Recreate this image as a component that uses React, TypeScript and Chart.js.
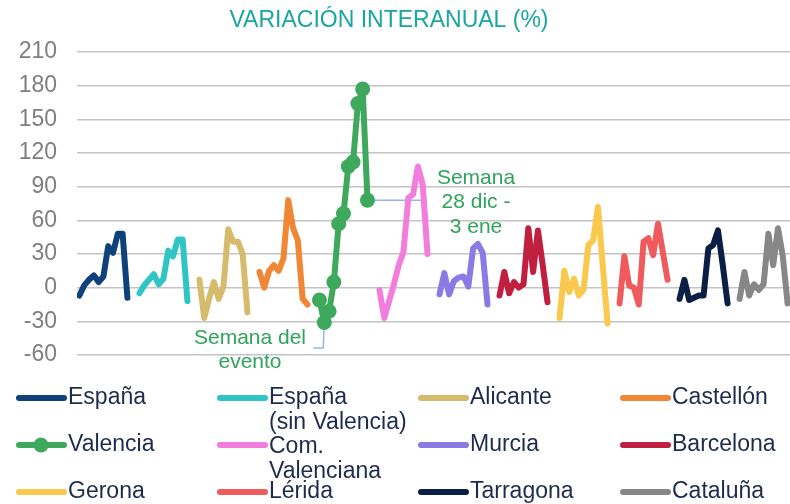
import React, { useEffect, useRef } from "react";
import { Chart, registerables } from "chart.js";

Chart.register(...registerables);

const TITLE = "VARIACIÓN INTERANUAL (%)";
const Y_MIN = -60;
const Y_MAX = 210;
const Y_STEP = 30;

const SERIES_NAMES = [
  "España",
  "España (sin Valencia)",
  "Alicante",
  "Castellón",
  "Valencia",
  "Com. Valenciana",
  "Murcia",
  "Barcelona",
  "Gerona",
  "Lérida",
  "Tarragona",
  "Cataluña",
];

const LEGEND_LINES = [
  ["España"],
  ["España", "(sin Valencia)"],
  ["Alicante"],
  ["Castellón"],
  ["Valencia"],
  ["Com.", "Valenciana"],
  ["Murcia"],
  ["Barcelona"],
  ["Gerona"],
  ["Lérida"],
  ["Tarragona"],
  ["Cataluña"],
];

const espana = [-7, 2, 7, 11, 5, 10, 37, 31, 48, 48, -9];
const espanaSinValencia = [-5, 2, 7, 12, 3, 8, 33, 28, 43, 43, -12];
const alicante = [7, -27, -10, 5, -10, 1, 52, 41, 41, 30, -22];
const castellon = [14, 0, 15, 20, 15, 26, 78, 53, 42, -10, -15];
const valencia = [-11, -31, -21, 5, 57, 66, 108, 112, 164, 177, 78];
const comValenciana = [-2, -27, -12, 3, 20, 32, 80, 83, 108, 92, 30];
const murcia = [-6, 13, -6, 6, 9, 10, 1, 35, 39, 31, -15];
const barcelona = [-7, 14, -5, 5, 0, 3, 53, 14, 51, 20, -13];
const gerona = [-27, 15, -4, 8, -7, -2, 38, 42, 72, 20, -32];
const lerida = [-14, 28, 2, 0, -15, 41, 44, 29, 57, 32, 7];
const tarragona = [-10, 7, -11, -9, -7, -7, 35, 38, 51, 20, -14];
const cataluna = [-10, 14, -7, 3, -2, 3, 48, 20, 53, 28, -14];

const SERIES_VALUES = [
  espana,
  espanaSinValencia,
  alicante,
  castellon,
  valencia,
  comValenciana,
  murcia,
  barcelona,
  gerona,
  lerida,
  tarragona,
  cataluna,
];

const COLORS = [
  "#0f417a",
  "#30c5c5",
  "#d6bb6c",
  "#f08734",
  "#3ea85c",
  "#f27ddc",
  "#8a7ae4",
  "#c01f40",
  "#f8c94c",
  "#ef5b5d",
  "#0b1f45",
  "#878787",
];

const EVENT_LABEL = ["Semana del", "evento"];
const NEWYEAR_LABEL = ["Semana", "28 dic -", "3 ene"];

const GROUP_STRIDE = 12.5;
const FONT = "'Liberation Sans', Arial, sans-serif";
const GREEN_TEXT = "#2fa35a";
const LEADER = "#8fb8e6";

const overlayPlugin = {
  id: "overlay",
  beforeDatasetsDraw(chart: any) {
    const ctx = chart.ctx;
    const meta = chart.getDatasetMeta(4);
    const evt = meta.data[1];
    const last = meta.data[10];
    ctx.save();
    ctx.strokeStyle = LEADER;
    ctx.lineWidth = 1.5;
    ctx.beginPath();
    ctx.moveTo(evt.x, evt.y);
    ctx.lineTo(evt.x - 1, 348);
    ctx.lineTo(evt.x - 11, 348);
    ctx.stroke();
    ctx.beginPath();
    ctx.moveTo(last.x, last.y);
    ctx.lineTo(427, last.y);
    ctx.stroke();
    ctx.restore();
  },
  afterDraw(chart: any) {
    const ctx = chart.ctx;
    ctx.save();
    // title
    ctx.fillStyle = "#1aa6a0";
    ctx.font = `23px ${FONT}`;
    ctx.textAlign = "center";
    ctx.textBaseline = "middle";
    ctx.fillText(TITLE, 389, 21);

    // annotations
    ctx.fillStyle = GREEN_TEXT;
    ctx.font = `21px ${FONT}`;
    EVENT_LABEL.forEach((t, i) => ctx.fillText(t, 250, 338 + i * 24));
    NEWYEAR_LABEL.forEach((t, i) => ctx.fillText(t, 476, 178 + i * 24.5));

    // legend
    const colX = [16, 217, 418, 620];
    const rowY = [398, 445, 492];
    ctx.textAlign = "left";
    ctx.font = `23px ${FONT}`;
    SERIES_NAMES.forEach((_, i) => {
      const col = i % 4;
      const row = Math.floor(i / 4);
      const x = colX[col];
      const y = rowY[row];
      ctx.strokeStyle = COLORS[i];
      ctx.lineWidth = 6;
      ctx.lineCap = "round";
      ctx.beginPath();
      ctx.moveTo(x + 3, y);
      ctx.lineTo(x + 48, y);
      ctx.stroke();
      if (i === 4) {
        ctx.fillStyle = COLORS[i];
        ctx.beginPath();
        ctx.arc(x + 25, y, 7.5, 0, Math.PI * 2);
        ctx.fill();
      }
      ctx.fillStyle = "#1d2b4c";
      const lines = LEGEND_LINES[i];
      const y0 = lines.length > 1 && row > 0 ? y + 2 : y;
      lines.forEach((t, j) => ctx.fillText(t, x + 52, y0 + j * 25));
    });
    ctx.restore();
  },
};

export default function App() {
  const ref = useRef<HTMLCanvasElement | null>(null);

  useEffect(() => {
    if (!ref.current) return;
    const datasets = SERIES_VALUES.map((vals, g) => ({
      label: SERIES_NAMES[g],
      data: vals.map((v, k) => ({ x: g * GROUP_STRIDE + k, y: v })),
      borderColor: COLORS[g],
      backgroundColor: COLORS[g],
      borderWidth: 6,
      borderJoinStyle: "round" as const,
      borderCapStyle: "round" as const,
      pointRadius: g === 4 ? 7.5 : 0,
      pointHoverRadius: g === 4 ? 7.5 : 0,
      pointBorderWidth: 0,
      tension: 0,
      fill: false,
    }));
    const chart = new Chart(ref.current, {
      type: "line",
      data: { datasets },
      options: {
        animation: false,
        responsive: false,
        events: [],
        layout: { autoPadding: false, padding: { top: 52, bottom: 149, left: 0, right: 0 } },
        plugins: {
          legend: { display: false },
          title: { display: false },
          tooltip: { enabled: false },
        },
        scales: {
          x: {
            type: "linear",
            display: false,
            min: -0.5,
            max: 148,
          },
          y: {
            min: Y_MIN,
            max: Y_MAX,
            border: { display: false },
            grid: { color: "#c4c4c4", lineWidth: 1.5, drawTicks: false },
            ticks: {
              stepSize: Y_STEP,
              padding: 20,
              color: "#7f7f7f",
              font: { family: FONT, size: 23 },
            },
            afterFit: (s: any) => {
              s.width = 77;
            },
          },
        },
      },
      plugins: [overlayPlugin],
    });
    return () => chart.destroy();
  }, []);

  return (
    <div style={{ position: "absolute", left: 0, top: 0, width: 790, height: 504, background: "#fff", overflow: "hidden" }}>
      <canvas ref={ref} width={790} height={504} style={{ display: "block" }} />
    </div>
  );
}
